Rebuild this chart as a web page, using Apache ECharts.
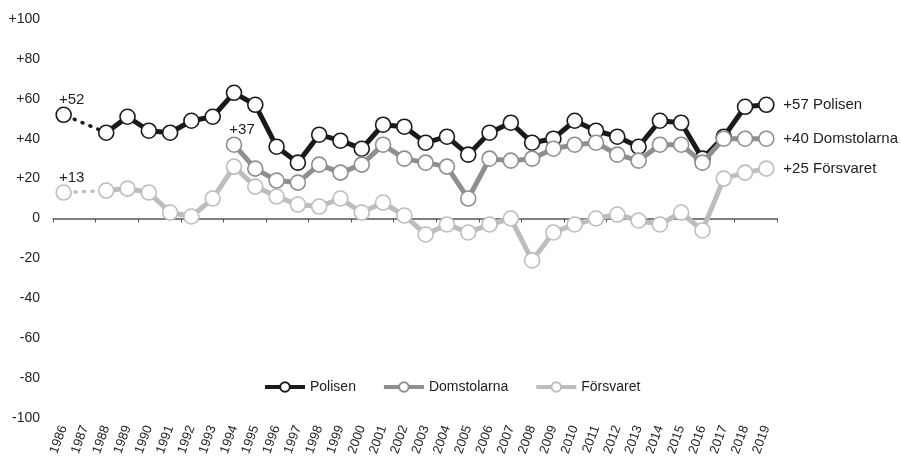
<!DOCTYPE html>
<html>
<head>
<meta charset="utf-8">
<script src="https://cdn.jsdelivr.net/npm/echarts@6/dist/echarts.min.js"></script>
<style>html,body{margin:0;padding:0;background:#fff}#c{width:901px;height:460px}</style>
</head>
<body>
<div id="c"></div>
<script>
const years = ['1986','1987','1988','1989','1990','1991','1992','1993','1994','1995','1996','1997','1998','1999','2000','2001','2002','2003','2004','2005','2006','2007','2008','2009','2010','2011','2012','2013','2014','2015','2016','2017','2018','2019'];
const polisen = [52,null,43,51,44,43,49,51,63,57,36,28,42,39,35,47,46,38,41,32,43,48,38,40,49,44,41,36,49,48,30,41,56,57];
const domstolarna = [null,null,null,null,null,null,null,null,37,25,19,18,27,23,27,37,30,28,26,10,30,29,30,35,37,38,32,29,37,37,28,40,40,40];
const forsvaret = [13,null,14,15,13,3,1,10,26,16,11,7,6,10,3,8,1.5,-8,-3,-7,-3,0,-21,-7,-3,0,2,-1,-3,3,-6,20,23,25];
const yTicks = [-100,-80,-60,-40,-20,0,20,40,60,80,100];
const names = ['Polisen','Domstolarna','Försvaret'];
const colors = ['#1a1a1a','#8f8f8f','#bdbdbd'];
const startLabels = [{idx:0,text:'+52'},{idx:8,text:'+37'},{idx:0,text:'+13'}];
const endLabels = ['+57 Polisen','+40 Domstolarna','+25 Försvaret'];

const font = 'Liberation Sans, Arial, sans-serif';
const seriesData = [polisen, domstolarna, forsvaret];

function withStartLabel(arr, s) {
  return arr.map((v, i) => i === s.idx ? {value: v, label: {show: true, position: 'top', distance: 1, offset: [8, 2], formatter: s.text, fontSize: 15, color: '#222', fontFamily: font}} : v);
}
function gapOnly(arr) {
  return arr.map((v, i) => (i === 0 || i === 2) ? v : null);
}

const series = [];
[0, 2].forEach(k => {
  series.push({
    type: 'line', data: gapOnly(seriesData[k]), connectNulls: true, showSymbol: false, symbol: 'none',
    lineStyle: {color: colors[k], width: 3.5, type: [1, 7.5], cap: 'round', dashOffset: -3}, silent: true, z: 1, legendHoverLink: false
  });
});
seriesData.forEach((arr, k) => {
  series.push({
    name: names[k], type: 'line', data: withStartLabel(arr, startLabels[k]), connectNulls: false,
    symbol: 'circle', symbolSize: 15, showAllSymbol: true,
    lineStyle: {color: colors[k], width: 5},
    itemStyle: {color: '#fff', borderColor: colors[k], borderWidth: 1.6},
    endLabel: {show: true, formatter: endLabels[k], fontSize: 15, color: '#222', fontFamily: font, distance: 17},
    z: 2 + k
  });
});

const chart = echarts.init(document.getElementById('c'));
chart.setOption({
  animation: false,
  backgroundColor: '#fff',
  textStyle: {fontFamily: font},
  grid: {left: 53, right: 124, top: 19, bottom: 42},
  legend: {
    data: names, left: 258, top: 375, itemWidth: 40, itemHeight: 12, itemGap: 26,
    lineStyle: {width: 4},
    textStyle: {fontSize: 14, color: '#222', fontFamily: font}
  },
  xAxis: [
    {type: 'category', data: years, boundaryGap: true,
     axisLine: {onZero: true, lineStyle: {color: '#555', width: 1.5}},
     axisTick: {show: true, length: 4, lineStyle: {color: '#555'}},
     axisLabel: {show: false}},
    {type: 'category', data: years, boundaryGap: true, position: 'bottom',
     axisLine: {show: false, onZero: false}, axisTick: {show: false},
     axisLabel: {rotate: 70, fontSize: 13, color: '#222', margin: 8, interval: 0, fontFamily: font}}
  ],
  yAxis: {
    type: 'value', min: -100, max: 100, interval: 20,
    axisLine: {show: false}, axisTick: {show: false}, splitLine: {show: false},
    axisLabel: {fontSize: 14, color: '#222', margin: 13, fontFamily: font,
      formatter: v => yTicks.includes(v) ? (v > 0 ? '+' + v : String(v)) : ''}
  },
  series: series
});
</script>
</body>
</html>
